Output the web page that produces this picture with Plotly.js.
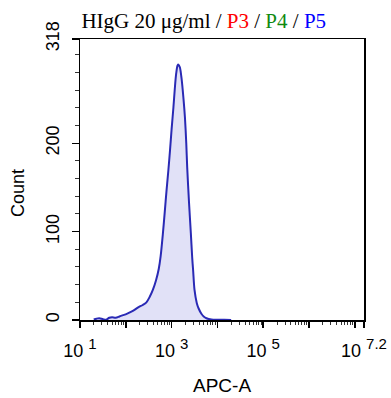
<!DOCTYPE html>
<html>
<head>
<meta charset="utf-8">
<script src="https://cdn.plot.ly/plotly-3.0.1.min.js"></script>
<style>html,body{margin:0;padding:0;background:#fff;}#chart{width:391px;height:398px;}</style>
</head>
<body>
<div id="chart"></div>
<script>
const apcLog = [1.30, 1.36, 1.42, 1.50, 1.57, 1.64, 1.70, 1.78, 1.86, 1.94, 2.02, 2.10, 2.19, 2.27, 2.37, 2.45, 2.52, 2.59, 2.66, 2.72, 2.76, 2.81, 2.85, 2.89, 2.93, 2.965, 3.00, 3.04, 3.07, 3.10, 3.13, 3.15, 3.18, 3.22, 3.26, 3.29, 3.32, 3.34, 3.38, 3.42, 3.45, 3.47, 3.50, 3.55, 3.59, 3.65, 3.70, 3.76, 3.87, 4.00, 4.15, 4.30];
const counts = [0.5, 1.5, 2, 1, 0.3, 2.5, 3, 2.6, 4, 5.5, 7, 9, 11.5, 14.3, 17, 20, 26, 34, 45, 58, 72, 98, 122, 147, 170, 192, 216, 241, 262, 279, 288, 289, 286, 272, 250, 230, 200, 173, 133, 98, 70, 56, 34, 19, 13, 7, 4, 2, 0.6, 0.3, 0.2, 0];

const xTickExp = [1, 3, 5, 7.2];
const xTickExpText = ['1', '3', '5', '7.2'];
const yTickVals = [0, 100, 200, 318];
const yTickText = ['0', '100', '200', '318'];

const xs = apcLog.map(v => Math.pow(10, v));

// axis tick positions (decades and minor 2..9 multiples)
const majorX = [];
const minorX = [];
for (let k = 1; k <= 7; k++) {
  majorX.push(Math.pow(10, k));
  for (let m = 2; m <= 9; m++) {
    const v = m * Math.pow(10, k);
    if (Math.log10(v) <= 7.2) minorX.push(v);
  }
}
const xTickVals = majorX.concat([Math.pow(10, 7.2)]);
const xTickLabels = xTickVals.map(v => {
  const e = Math.round(Math.log10(v) * 10) / 10;
  const i = xTickExp.indexOf(e);
  return i >= 0 ? '10 <span style="font-size:15px;baseline-shift:55%">' + xTickExpText[i] + '</span>' : '';
});

const trace = {
  x: xs, y: counts, type: 'scatter', mode: 'lines',
  line: {color: '#2a2ab5', width: 2, shape: 'spline', smoothing: 0.8},
  fill: 'tozeroy', fillcolor: 'rgba(222,222,246,0.9)',
  hoverinfo: 'skip'
};

const layout = {
  width: 391, height: 398,
  margin: {l: 80, r: 27, t: 39, b: 78},
  paper_bgcolor: '#fff', plot_bgcolor: '#fff',
  showlegend: false,
  title: {
    text: 'HIgG 20 μg/ml / <span style="color:#ff0000">P3</span> / <span style="color:#108a10">P4</span> / <span style="color:#0000ff">P5</span>',
    font: {family: 'Liberation Serif, Times New Roman, serif', size: 21, color: '#000'},
    xref: 'paper', x: 0.005, xanchor: 'left',
    yref: 'container', y: 0.948, yanchor: 'middle'
  },
  xaxis: {
    type: 'log', range: [1, 7.2], autorange: false,
    tickmode: 'array', tickvals: xTickVals, ticktext: xTickLabels,
    ticks: 'outside', ticklen: 6, tickwidth: 1.5, tickcolor: '#000',
    minor: {tickmode: 'array', tickvals: minorX, ticks: 'outside', ticklen: 3, tickwidth: 1, tickcolor: '#333'},
    showline: true, linecolor: '#000', linewidth: 1.5, mirror: true,
    showgrid: false, zeroline: false,
    tickfont: {family: 'Liberation Sans, Arial, sans-serif', size: 18, color: '#000'},
    ticklabelstandoff: 8
  },
  yaxis: {
    range: [0, 318], autorange: false,
    tickmode: 'array', tickvals: yTickVals, ticktext: yTickText,
    tickangle: -90,
    ticks: 'outside', ticklen: 7, tickwidth: 1.5, tickcolor: '#000',
    minor: {dtick: 20, ticks: 'outside', ticklen: 4, tickwidth: 1, tickcolor: '#333'},
    showline: true, linecolor: '#000', linewidth: 1.5, mirror: true,
    showgrid: false, zeroline: false,
    tickfont: {family: 'Liberation Sans, Arial, sans-serif', size: 18, color: '#000'},
    ticklabelstandoff: 5
  },
  annotations: [
    {text: 'Count', xref: 'paper', yref: 'paper', x: -0.22, y: 0.45, xanchor: 'center', yanchor: 'middle',
     textangle: -90, showarrow: false, font: {family: 'Liberation Sans, Arial, sans-serif', size: 18, color: '#000'}},
    {text: 'APC-A', xref: 'paper', yref: 'paper', x: 0.5, y: -0.232, xanchor: 'center', yanchor: 'middle',
     showarrow: false, font: {family: 'Liberation Sans, Arial, sans-serif', size: 19, color: '#000'}}
  ]
};

Plotly.newPlot('chart', [trace], layout, {displayModeBar: false, staticPlot: true});
</script>
</body>
</html>
